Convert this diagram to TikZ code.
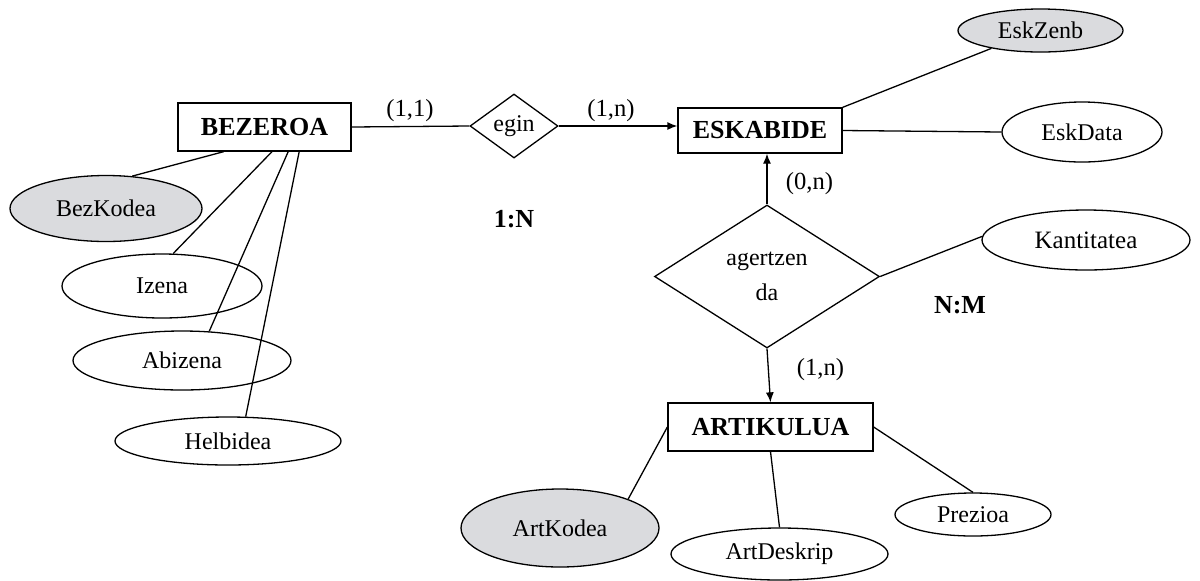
\documentclass[tikz,border=0pt]{standalone}
\usepackage{fontspec}
\setmainfont{Liberation Serif}
\usetikzlibrary{shapes.geometric,arrows.meta,calc}
\definecolor{keyfill}{RGB}{218,219,222}
\begin{document}
\begin{tikzpicture}[x=0.5pt,y=-0.5pt,
  every node/.style={font=\fontsize{12}{14}\selectfont},
  entity/.style={draw,line width=0.65pt,rectangle,inner sep=0pt,
    font=\fontsize{13}{15}\selectfont\bfseries},
  relation/.style={draw,line width=0.65pt,diamond,inner sep=0pt},
  attr/.style={draw,line width=0.65pt,ellipse,inner sep=0pt},
  keyattr/.style={attr,fill=keyfill},
  link/.style={line width=0.65pt},
  arrowlink/.style={link,-{Latex[length=5pt,width=4pt]}},
  card/.style={inner sep=0pt,font=\fontsize{12.3}{14}\selectfont},
  ratio/.style={inner sep=0pt,font=\fontsize{13}{15}\selectfont\bfseries}]
\useasboundingbox (0,0) rectangle (1200,580);

% entities
\node[entity,minimum width=86.5pt,minimum height=24pt] (bez) at (264.5,127) {BEZEROA};
\node[entity,minimum width=82pt,minimum height=22.5pt] (esk) at (760,130.5) {ESKABIDE};
\node[entity,minimum width=102.5pt,minimum height=24pt] (art) at (770.5,427) {ARTIKULUA};

% relationships
\node[relation,aspect=1.4,minimum width=44pt,minimum height=32pt] (egin) at (514,126) {egin};
\node[relation,aspect=1.6,minimum width=112.5pt,minimum height=71.5pt,align=center,
  font=\fontsize{12}{17.5}\selectfont] (ag) at (767,276.5) {agertzen\\da};

% attributes
\node[keyattr,minimum width=96pt,minimum height=33pt] (bk) at (106,208.5) {BezKodea};
\node[attr,minimum width=100pt,minimum height=32pt] (iz) at (162,286) {Izena};
\node[attr,minimum width=109pt,minimum height=29.5pt] (ab) at (182,360.5) {Abizena};
\node[attr,minimum width=113pt,minimum height=24pt] (hb) at (228,441) {Helbidea};
\node[keyattr,minimum width=82.5pt,minimum height=21.5pt] (ez) at (1040.5,30.5) {EskZenb};
\node[attr,minimum width=80pt,minimum height=30pt] (ed) at (1082,132) {EskData};
\node[attr,minimum width=104pt,minimum height=30pt,font=\fontsize{12.5}{14}\selectfont] (kt) at (1086,240) {Kantitatea};
\node[keyattr,minimum width=99pt,minimum height=39pt] (ak) at (560,528) {ArtKodea};
\node[attr,minimum width=108.5pt,minimum height=26pt] (ad) at (779.5,554) {ArtDeskrip};
\node[attr,minimum width=78pt,minimum height=21.5pt] (pz) at (973,514.5) {Prezioa};

% cardinalities and ratios
\node[card] (c11) at (410,111) {(1,1)};
\node[card] (c1n) at (611,111) {(1,n)};
\node[card] (c0n) at (809.5,184) {(0,n)};
\node[card] (c1nb) at (820.5,370) {(1,n)};
\node[ratio] (r1n) at (514,219.5) {1:N};
\node[ratio] (rnm) at (960,305.5) {N:M};

% relationship links
\draw[link] (bez.east) -- (egin.west);
\draw[arrowlink] (egin.east) -- (egin.east -| esk.west);
\draw[arrowlink] (ag.north) -- (ag.north |- esk.south);
\draw[arrowlink] (ag.south) -- (art.north);
\draw[link] (ag.east) -- (kt.178);

% attribute links
\draw[link] (esk.north east) -- (ez.200);
\draw[link] (esk.east) -- (ed.west);
\draw[link] ($(bez.south west)!0.266!(bez.south east)$) -- (bk.51);
\draw[link] ($(bez.south west)!0.543!(bez.south east)$) -- (iz.71);
\draw[link] ($(bez.south west)!0.636!(bez.south east)$) -- (ab.47);
\draw[link] ($(bez.south west)!0.699!(bez.south east)$) -- (hb.54);
\draw[link] (art.west) -- (ak.23);
\draw[link] (art.south) -- (ad.north);
\draw[link] (art.east) -- (pz.north);
\end{tikzpicture}
\end{document}
